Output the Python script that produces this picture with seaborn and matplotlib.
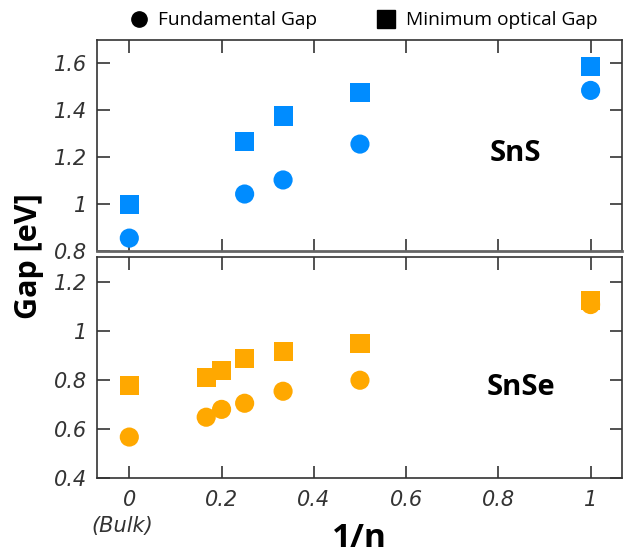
import matplotlib
matplotlib.use("Agg")
import matplotlib.pyplot as plt
from matplotlib.lines import Line2D
import seaborn as sns
import pandas as pd

# Data
sns_x = [0, 1/4, 1/3, 1/2, 1]
sns_fund = [0.855, 1.043, 1.103, 1.256, 1.485]
sns_opt = [1.0, 1.268, 1.376, 1.477, 1.588]

snse_x = [0, 1/6, 1/5, 1/4, 1/3, 1/2, 1]
snse_fund = [0.566, 0.647, 0.679, 0.704, 0.753, 0.798, 1.107]
snse_opt = [0.778, 0.810, 0.839, 0.886, 0.916, 0.949, 1.124]

xticks = [0, 0.2, 0.4, 0.6, 0.8, 1]
xticklabels = ["0", "0.2", "0.4", "0.6", "0.8", "1"]
bulk_label = "(Bulk)"
top_yticks = [0.8, 1.0, 1.2, 1.4, 1.6]
top_yticklabels = ["0.8", "1", "1.2", "1.4", "1.6"]
bot_yticks = [0.4, 0.6, 0.8, 1.0, 1.2]
bot_yticklabels = ["0.4", "0.6", "0.8", "1", "1.2"]

sns.set_theme(style="white")
plt.rcParams['font.family'] = ['Open Sans', 'DejaVu Sans']
plt.rcParams['text.color'] = 'black'

def frame(x, fund, opt):
    return pd.DataFrame({
        "x": list(x) + list(x),
        "gap": list(fund) + list(opt),
        "kind": ["Fundamental Gap"] * len(x) + ["Minimum optical Gap"] * len(x),
    })

df_top = frame(sns_x, sns_fund, sns_opt)
df_bot = frame(snse_x, snse_fund, snse_opt)

fig = plt.figure(figsize=(6.25, 5.54), dpi=100)
L, R = 96.7 / 625, 621.7 / 625
ax1 = fig.add_axes([L, 1 - 251 / 554, R - L, (251 - 40) / 554])
ax2 = fig.add_axes([L, 1 - 477.7 / 554, R - L, (477.7 - 257.3) / 554])

markers = {"Fundamental Gap": "o", "Minimum optical Gap": "s"}
blue = "#008cff"
orange = "#ffa800"

sns.scatterplot(data=df_top, x="x", y="gap", style="kind", markers=markers,
                color=blue, s=190, linewidth=0, ax=ax1, legend=False)
sns.scatterplot(data=df_bot, x="x", y="gap", style="kind", markers=markers,
                color=orange, s=190, linewidth=0, ax=ax2, legend=False)

tickfont = dict(family="DejaVu Sans", style="oblique", size=15, color="#333333")

for ax, yt, ytl, ylim in [(ax1, top_yticks, top_yticklabels, (0.8, 1.7)),
                          (ax2, bot_yticks, bot_yticklabels, (0.4, 1.3))]:
    ax.set_xlim(-0.0707, 1.0674)
    ax.set_ylim(*ylim)
    ax.set_xticks(xticks)
    ax.set_yticks(yt)
    ax.set_yticklabels(ytl, **tickfont)
    ax.tick_params(direction="in", length=9, width=1.1, color="#222222",
                   top=True, right=True, bottom=True, left=True)
    ax.tick_params(axis="y", pad=7)
    for sp in ax.spines.values():
        sp.set_color("#333333")
        sp.set_linewidth(1.2)
    ax.set_ylabel("")
    ax.set_xlabel("")

ax1.set_xticklabels([])
ax1.spines["bottom"].set_color("#666666")
ax1.spines["bottom"].set_linewidth(2)
ax2.set_xticklabels(xticklabels, **tickfont)
ax2.tick_params(axis="x", pad=9)
fig.text(122 / 625, 1 - 526 / 554, bulk_label, ha="center", va="center", **tickfont)

ax1.text(0.836, 1.214, "SnS", fontsize=21, fontweight="bold", ha="center", va="center")
ax2.text(0.849, 0.767, "SnSe", fontsize=21, fontweight="bold", ha="center", va="center")

fig.text(0.046, 0.538, "Gap [eV]", rotation=90, fontsize=22, fontweight="bold",
         ha="center", va="center")
fig.text(0.575, 0.028, "1/n", fontsize=24, fontweight="bold", ha="center", va="center")

handles = [Line2D([], [], marker="o", color="black", linestyle="none", markersize=11),
           Line2D([], [], marker="s", color="black", linestyle="none", markersize=13)]
fig.legend(handles, ["Fundamental Gap", "Minimum optical Gap"], loc="center",
           bbox_to_anchor=(0.58, 0.963), ncol=2, frameon=False, fontsize=13.8,
           handletextpad=0.4, columnspacing=3.0, handlelength=1.2)

fig.savefig("out.png", dpi=100)
